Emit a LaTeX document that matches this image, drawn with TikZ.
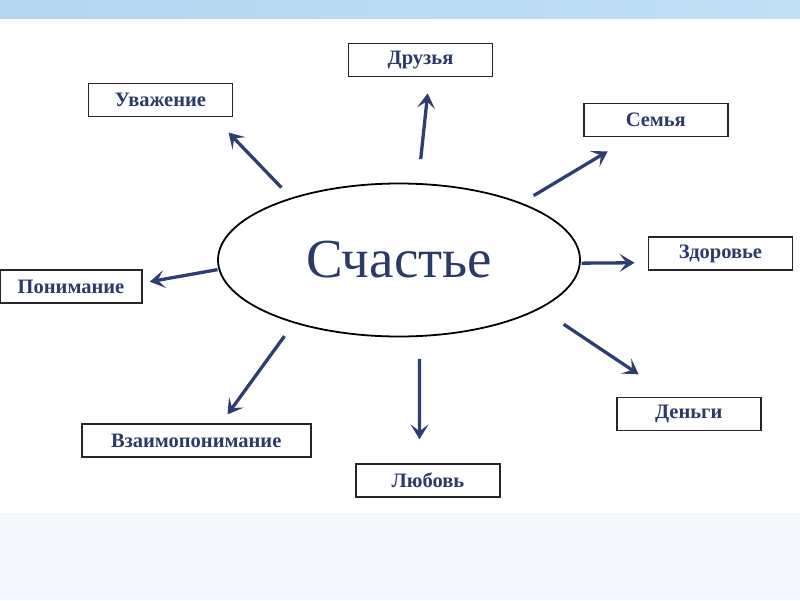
\documentclass[tikz,border=0pt]{standalone}
\usepackage{fontspec}
\setmainfont{Liberation Serif}
\usetikzlibrary{shapes.geometric,arrows.meta}
\definecolor{ink}{RGB}{44,58,104}
\definecolor{arrowblue}{RGB}{46,62,112}
\definecolor{bandleft}{RGB}{178,214,241}
\definecolor{bandright}{RGB}{192,225,246}
\definecolor{lowband}{RGB}{243,247,252}
\tikzset{
            word/.style={draw=black!85,line width=1.8pt,fill=white,minimum width=144pt,minimum height=33pt,inner sep=2pt,text=ink,font=\bfseries\fontsize{20.5}{22}\selectfont},
            link/.style={draw=arrowblue,line width=3.3pt,-{Stealth[length=15pt,width=18pt,inset=7pt]}}
        }

\begin{document}
\begin{tikzpicture}[
                    x=1pt,y=-1pt
                    ]
                \useasboundingbox (0,0) rectangle (800,600);
                \shade[left color=bandleft,right color=bandright] (0,0) rectangle (800,18.5);
                \fill[lowband] (0,513) rectangle (800,600);
                \node[ellipse,draw=black,line width=1.8pt,minimum width=362pt,minimum height=153pt,inner sep=0pt,text=ink,font=\fontsize{55}{60}\selectfont] (hap) at (399,260) {Счастье};
                \node[word] (fr) at (420.5,60) {Друзья};
                \node[word] (ua) at (160.5,100) {Уважение};
                \node[word] (se) at (655.8,120) {Семья};
                \node[word] (zd) at (720.5,253.7) {Здоровье};
                \node[word,minimum width=142pt] (pn) at (71,286.7) {Понимание};
                \node[word] (dn) at (688.7,414) {Деньги};
                \node[word,minimum width=229pt] (vz) at (196.2,440.7) {Взаимопонимание};
                \node[word] (lb) at (428,480.7) {Любовь};
                \foreach \a/\b/\s/\t in {76/fr.297/24pt/16pt, 150/ua.342/14pt/21pt, 25/se.215/14pt/27pt, 359/zd.187/1pt/13pt,
                                         183/pn.3/1pt/7pt, 341/dn.134/28pt/40pt, 211/vz.35/16pt/11pt, 285/lb.116/22pt/24pt}
                    \draw[link,shorten <=\s,shorten >=\t] (hap.\a) -- (\b);
            \end{tikzpicture}
\end{document}
